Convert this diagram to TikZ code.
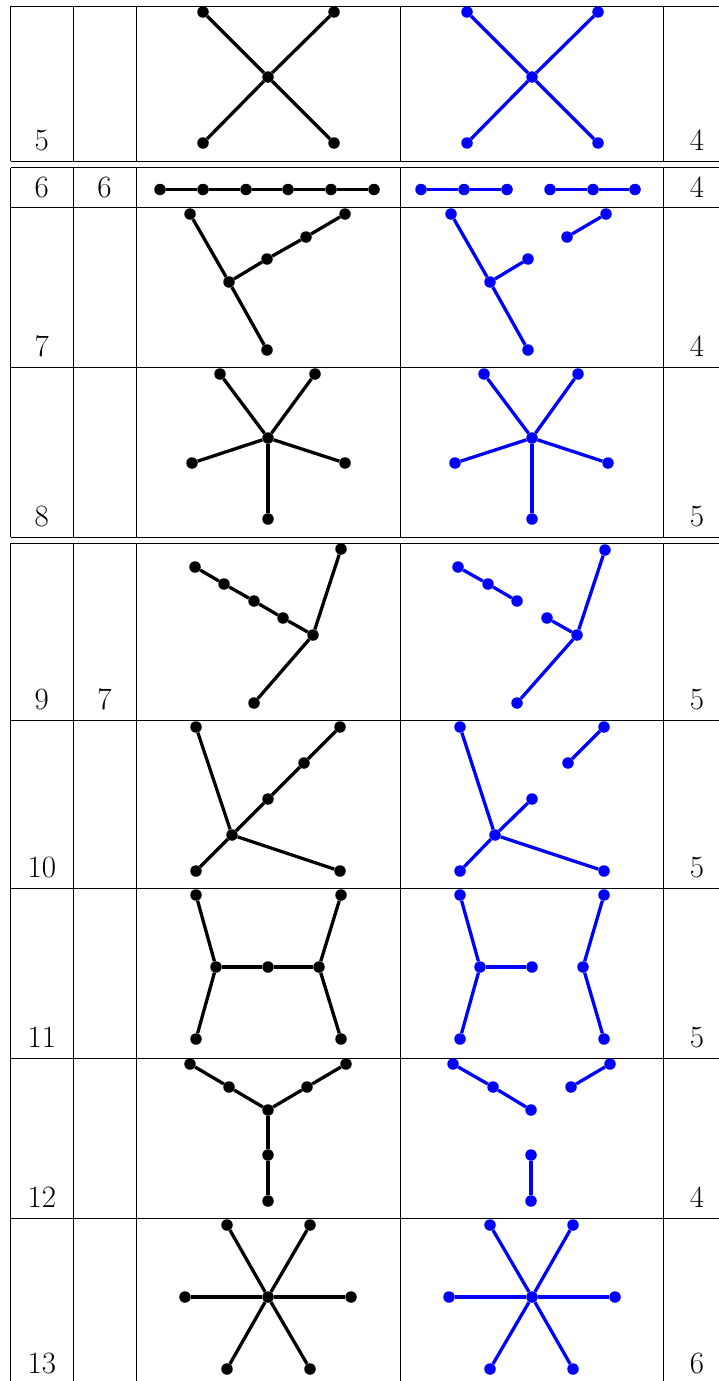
\documentclass[tikz,border=0pt]{standalone}
\usepackage{fontspec}
\begin{document}
\begin{tikzpicture}[x=1pt,y=-1pt,
  rule/.style={line width=0.9pt,black},
  bdot/.style={circle,fill=black,inner sep=0pt,minimum size=11.5pt},
  ldot/.style={circle,fill=blue,inner sep=0pt,minimum size=11.5pt},
  bedge/.style={line width=3.3pt,black},
  ledge/.style={line width=3.3pt,blue},
  num/.style={anchor=base,inner sep=0pt,font=\fontsize{31}{37}\selectfont}]
\useasboundingbox (0,0) rectangle (719,1381);
% horizontal rules
\foreach \y in {6,161,167.7,207.7,367,537,543.3,720,888,1058,1218.3}
  \draw[rule] (10.5,\y) -- (722,\y);
% vertical rules per block
\foreach \x in {10.5,73,136,400,663} {
  \draw[rule] (\x,6) -- (\x,161);
  \draw[rule] (\x,167.7) -- (\x,537);
  \draw[rule] (\x,543.3) -- (\x,1385);
}
% column 1 numbers
\node[num] (n5) at (41.75,150) {5};
\node[num] (n6) at (41.75,197) {6};
\node[num] (n7) at (41.75,356) {7};
\node[num] (n8) at (41.75,526) {8};
\node[num] (n9) at (41.75,709) {9};
\node[num] (n10) at (41.75,877) {10};
\node[num] (n11) at (41.75,1047) {11};
\node[num] (n12) at (41.75,1207) {12};
\node[num] (n13) at (41.75,1373) {13};
% column 2
\node[num] (m6) at (104.5,197) {6};
\node[num] (m9) at (104.5,709) {7};
% column 5
\node[num] (k5) at (697,150) {4};
\node[num] (k6) at (697,197) {4};
\node[num] (k7) at (697,356) {4};
\node[num] (k8) at (697,526) {5};
\node[num] (k9) at (697,709) {5};
\node[num] (k10) at (697,877) {5};
\node[num] (k11) at (697,1047) {5};
\node[num] (k12) at (697,1207) {4};
\node[num] (k13) at (697,1373) {6};

% ---------- row 5 ----------
\node[bdot] (A5a) at (203,12) {};
\node[bdot] (A5b) at (334,12) {};
\node[bdot] (A5c) at (268,77) {};
\node[bdot] (A5d) at (203,143) {};
\node[bdot] (A5e) at (334,143) {};
\foreach \t in {a,b,d,e} \draw[bedge] (A5c) -- (A5\t);
\node[ldot] (B5a) at (467,12) {};
\node[ldot] (B5b) at (598,12) {};
\node[ldot] (B5c) at (532,77) {};
\node[ldot] (B5d) at (467,143) {};
\node[ldot] (B5e) at (598,143) {};
\foreach \t in {a,b,d,e} \draw[ledge] (B5c) -- (B5\t);

% ---------- row 6 ----------
\foreach \i/\x in {1/160,2/203,3/246,4/288,5/331,6/374}
  \node[bdot] (A6\i) at (\x,189.5) {};
\foreach \i/\j in {1/2,2/3,3/4,4/5,5/6} \draw[bedge] (A6\i) -- (A6\j);
\foreach \i/\x in {1/421,2/464,3/507,4/550,5/593,6/635}
  \node[ldot] (B6\i) at (\x,189.5) {};
\foreach \i/\j in {1/2,2/3,4/5,5/6} \draw[ledge] (B6\i) -- (B6\j);

% ---------- row 7 ----------
\node[bdot] (A7a) at (190,214) {};
\node[bdot] (A7b) at (229,282) {};
\node[bdot] (A7c) at (267,350) {};
\node[bdot] (A7d) at (267,259) {};
\node[bdot] (A7e) at (306,237) {};
\node[bdot] (A7f) at (345,214) {};
\foreach \i/\j in {a/b,b/c,b/d,d/e,e/f} \draw[bedge] (A7\i) -- (A7\j);
\node[ldot] (B7a) at (451,214) {};
\node[ldot] (B7b) at (490,282) {};
\node[ldot] (B7c) at (528,350) {};
\node[ldot] (B7d) at (528,259) {};
\node[ldot] (B7e) at (567,237) {};
\node[ldot] (B7f) at (606,214) {};
\foreach \i/\j in {a/b,b/c,b/d,e/f} \draw[ledge] (B7\i) -- (B7\j);

% ---------- row 8 ----------
\node[bdot] (A8c) at (268,438) {};
\node[bdot] (A8a) at (220,374) {};
\node[bdot] (A8b) at (315,374) {};
\node[bdot] (A8d) at (192,463) {};
\node[bdot] (A8e) at (345,463) {};
\node[bdot] (A8f) at (268,519) {};
\foreach \t in {a,b,d,e,f} \draw[bedge] (A8c) -- (A8\t);
\node[ldot] (B8c) at (532,438) {};
\node[ldot] (B8a) at (484,374) {};
\node[ldot] (B8b) at (578,374) {};
\node[ldot] (B8d) at (455,463) {};
\node[ldot] (B8e) at (608,463) {};
\node[ldot] (B8f) at (532,519) {};
\foreach \t in {a,b,d,e,f} \draw[ledge] (B8c) -- (B8\t);

% ---------- row 9 ----------
\node[bdot] (A9a) at (195,567) {};
\node[bdot] (A9b) at (224,584) {};
\node[bdot] (A9c) at (254,601) {};
\node[bdot] (A9d) at (283,618) {};
\node[bdot] (A9e) at (313,635) {};
\node[bdot] (A9f) at (341,549) {};
\node[bdot] (A9g) at (254,703) {};
\foreach \i/\j in {a/b,b/c,c/d,d/e,e/f,e/g} \draw[bedge] (A9\i) -- (A9\j);
\node[ldot] (B9a) at (458,567) {};
\node[ldot] (B9b) at (488,584) {};
\node[ldot] (B9c) at (517,601) {};
\node[ldot] (B9d) at (547,618) {};
\node[ldot] (B9e) at (577,635) {};
\node[ldot] (B9f) at (605,550) {};
\node[ldot] (B9g) at (517,703) {};
\foreach \i/\j in {a/b,b/c,d/e,e/f,e/g} \draw[ledge] (B9\i) -- (B9\j);

% ---------- row 10 ----------
\node[bdot] (A10a) at (196,727) {};
\node[bdot] (A10b) at (232,835) {};
\node[bdot] (A10c) at (196,871) {};
\node[bdot] (A10d) at (340,871) {};
\node[bdot] (A10e) at (268,799) {};
\node[bdot] (A10f) at (304,763) {};
\node[bdot] (A10g) at (340,727) {};
\foreach \i/\j in {a/b,b/c,b/d,b/e,e/f,f/g} \draw[bedge] (A10\i) -- (A10\j);
\node[ldot] (B10a) at (460,727) {};
\node[ldot] (B10b) at (495,835) {};
\node[ldot] (B10c) at (460,871) {};
\node[ldot] (B10d) at (604,871) {};
\node[ldot] (B10e) at (532,799) {};
\node[ldot] (B10f) at (568,763) {};
\node[ldot] (B10g) at (604,727) {};
\foreach \i/\j in {a/b,b/c,b/d,b/e,f/g} \draw[ledge] (B10\i) -- (B10\j);

% ---------- row 11 ----------
\node[bdot] (A11a) at (196,895) {};
\node[bdot] (A11b) at (216,967) {};
\node[bdot] (A11c) at (196,1039) {};
\node[bdot] (A11d) at (268,967) {};
\node[bdot] (A11e) at (319,967) {};
\node[bdot] (A11f) at (341,895) {};
\node[bdot] (A11g) at (341,1039) {};
\foreach \i/\j in {a/b,b/c,b/d,d/e,e/f,e/g} \draw[bedge] (A11\i) -- (A11\j);
\node[ldot] (B11a) at (460,895) {};
\node[ldot] (B11b) at (480,967) {};
\node[ldot] (B11c) at (460,1039) {};
\node[ldot] (B11d) at (532,967) {};
\node[ldot] (B11e) at (583,967) {};
\node[ldot] (B11f) at (604,895) {};
\node[ldot] (B11g) at (604,1039) {};
\foreach \i/\j in {a/b,b/c,b/d,e/f,e/g} \draw[ledge] (B11\i) -- (B11\j);

% ---------- row 12 ----------
\node[bdot] (A12a) at (190,1064) {};
\node[bdot] (A12b) at (229,1087) {};
\node[bdot] (A12c) at (268,1110) {};
\node[bdot] (A12d) at (307,1087) {};
\node[bdot] (A12e) at (346,1064) {};
\node[bdot] (A12f) at (268,1155) {};
\node[bdot] (A12g) at (268,1201) {};
\foreach \i/\j in {a/b,b/c,c/d,d/e,c/f,f/g} \draw[bedge] (A12\i) -- (A12\j);
\node[ldot] (B12a) at (453,1064) {};
\node[ldot] (B12b) at (493,1087) {};
\node[ldot] (B12c) at (531,1110) {};
\node[ldot] (B12d) at (571,1087) {};
\node[ldot] (B12e) at (610,1064) {};
\node[ldot] (B12f) at (531,1155) {};
\node[ldot] (B12g) at (531,1201) {};
\foreach \i/\j in {a/b,b/c,d/e,f/g} \draw[ledge] (B12\i) -- (B12\j);

% ---------- row 13 ----------
\node[bdot] (A13c) at (268,1297) {};
\node[bdot] (A13a) at (227,1225) {};
\node[bdot] (A13b) at (310,1225) {};
\node[bdot] (A13d) at (185,1297) {};
\node[bdot] (A13e) at (351,1297) {};
\node[bdot] (A13f) at (227,1369) {};
\node[bdot] (A13g) at (310,1369) {};
\foreach \t in {a,b,d,e,f,g} \draw[bedge] (A13c) -- (A13\t);
\node[ldot] (B13c) at (532,1297) {};
\node[ldot] (B13a) at (490,1225) {};
\node[ldot] (B13b) at (573,1225) {};
\node[ldot] (B13d) at (449,1297) {};
\node[ldot] (B13e) at (615,1297) {};
\node[ldot] (B13f) at (490,1369) {};
\node[ldot] (B13g) at (573,1369) {};
\foreach \t in {a,b,d,e,f,g} \draw[ledge] (B13c) -- (B13\t);
\end{tikzpicture}
\end{document}
